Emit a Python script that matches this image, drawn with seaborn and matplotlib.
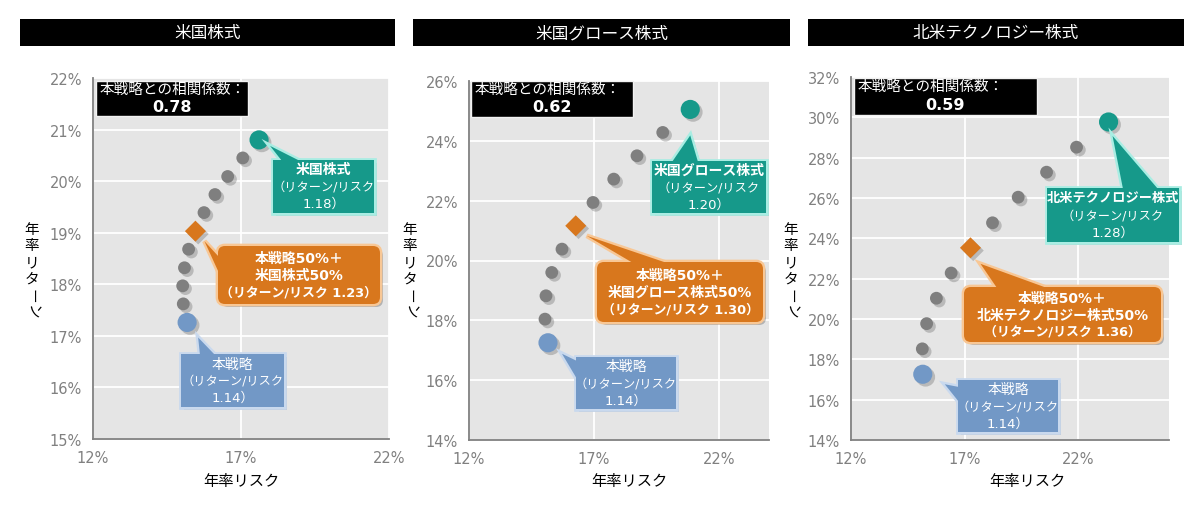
import numpy as np
import pandas as pd
import seaborn as sns
import matplotlib
matplotlib.use("Agg")
import matplotlib.pyplot as plt
import matplotlib.patheffects as pe
from matplotlib.patches import Polygon, Rectangle, FancyBboxPatch
from matplotlib.ticker import FuncFormatter, MultipleLocator

# ---------------- data ----------------
titles = ["米国株式", "米国グロース株式", "北米テクノロジー株式"]
asset_names = ["米国株式", "米国グロース株式", "北米テクノロジー株式"]
correlations = ["0.78", "0.62", "0.59"]
asset_rr = ["1.18", "1.20", "1.28"]
mix_rr = ["1.23", "1.30", "1.36"]
strategy_rr = "1.14"
asset_weight = [0, 10, 20, 30, 40, 50, 60, 70, 80, 90, 100]

risk_us = [15.18, 15.05, 15.03, 15.09, 15.23, 15.46, 15.75, 16.12, 16.55, 17.06, 17.61]
ret_us = [17.26, 17.62, 17.97, 18.32, 18.68, 19.03, 19.39, 19.74, 20.09, 20.45, 20.80]
risk_growth = [15.16, 15.04, 15.08, 15.31, 15.72, 16.27, 16.96, 17.79, 18.72, 19.75, 20.85]
ret_growth = [17.25, 18.04, 18.82, 19.60, 20.38, 21.16, 21.94, 22.72, 23.50, 24.28, 25.05]
risk_tech = [15.16, 15.14, 15.33, 15.76, 16.41, 17.26, 18.23, 19.36, 20.61, 21.93, 23.34]
ret_tech = [17.26, 18.52, 19.77, 21.03, 22.28, 23.53, 24.77, 26.04, 27.28, 28.52, 29.77]

x_ticks = [12, 17, 22]
y_ranges = [(15, 22, 1), (14, 26, 2), (14, 32, 2)]
x_ranges = [(12, 22), (12, 24), (12, 26)]

series = [(risk_us, ret_us), (risk_growth, ret_growth), (risk_tech, ret_tech)]

# ---------------- style ----------------
sns.set_theme(style="white")
plt.rcParams["font.family"] = ["DejaVu Sans", "Noto Sans CJK JP"]
JP = ["Noto Sans CJK JP", "DejaVu Sans"]

C_GRAY = "#7f7f7f"
C_TEAL = "#16998a"
C_BLUE = "#7298c6"
C_ORANGE = "#d8771d"
E_TEAL = "#a9ede3"
E_BLUE = "#c9d9ee"
E_ORANGE = "#f8c795"

fig = plt.figure(figsize=(12, 5.1), dpi=100)
W, H = 1200, 510

# axes rectangles in pixels (left, top, right, bottom)
ax_px = [(93, 79, 389, 440), (469, 82, 769, 441), (851, 78, 1169, 441)]

overlay = fig.add_axes([0, 0, 1, 1], zorder=10)
overlay.set_xlim(0, W)
overlay.set_ylim(H, 0)
overlay.axis("off")
overlay.patch.set_alpha(0)

axes = []
for i in range(3):
    l, t, r, b = ax_px[i]
    ax = fig.add_axes([l / W, (H - b) / H, (r - l) / W, (b - t) / H])
    axes.append(ax)
    rx, ry = series[i]
    kinds = ["mix"] * len(rx)
    kinds[0] = "strategy"
    kinds[5] = "half"
    kinds[-1] = "asset"
    df = pd.DataFrame({"risk": rx, "ret": ry, "kind": kinds, "w": asset_weight})
    ax.set_facecolor("#e5e5e5")
    sns.scatterplot(
        data=df, x="risk", y="ret", hue="kind", style="kind", size="kind",
        palette={"strategy": C_BLUE, "mix": C_GRAY, "half": C_ORANGE, "asset": C_TEAL},
        markers={"strategy": "o", "mix": "o", "half": "D", "asset": "o"},
        sizes={"strategy": 190, "mix": 85, "half": 115, "asset": 190},
        linewidth=0, legend=False, ax=ax, zorder=3,
    )
    for coll in ax.collections:
        coll.set_path_effects([pe.SimplePatchShadow(offset=(2, -2), alpha=0.3, shadow_rgbFace="#555555"), pe.Normal()])
    x0, x1 = x_ranges[i]
    y0, y1, ys = y_ranges[i]
    ax.set_xlim(x0, x1)
    ax.set_ylim(y0, y1)
    ax.set_xticks(x_ticks)
    ax.yaxis.set_major_locator(MultipleLocator(ys))
    ax.xaxis.set_major_formatter(FuncFormatter(lambda v, p: f"{v:.0f}%"))
    ax.yaxis.set_major_formatter(FuncFormatter(lambda v, p: f"{v:.0f}%"))
    ax.grid(True, color="white", linewidth=1.3, zorder=0)
    ax.set_axisbelow(True)
    for s in ["top", "right"]:
        ax.spines[s].set_visible(False)
    for s in ["left", "bottom"]:
        ax.spines[s].set_color("#808080")
        ax.spines[s].set_linewidth(1.3)
    ax.tick_params(axis="both", labelsize=10.5, colors="#808080", length=0, pad=8)
    ax.set_xlabel("")
    ax.set_ylabel("")

def to_px(ax, x, y):
    d = ax.transData.transform((x, y))
    return overlay.transData.inverted().transform(d)

def callout(box, base, tip, face, edge, lines, weights, sizes, rounded=False):
    x0, y0, x1, y1 = box
    sh = 3
    if rounded:
        shp = FancyBboxPatch((x0 + sh, y0 + sh), x1 - x0, y1 - y0,
                             boxstyle="round,pad=0,rounding_size=7",
                             facecolor="black", alpha=0.22, edgecolor="none", zorder=1)
    else:
        shp = Rectangle((x0 + sh, y0 + sh), x1 - x0, y1 - y0, facecolor="black", alpha=0.22,
                        edgecolor="none", zorder=1)
    overlay.add_patch(shp)
    tri = [tip, base[0], base[1]]
    overlay.add_patch(Polygon([(p[0] + sh, p[1] + sh) for p in tri], closed=True,
                              facecolor="black", alpha=0.22, edgecolor="none", zorder=1))
    if rounded:
        b1 = FancyBboxPatch((x0, y0), x1 - x0, y1 - y0, boxstyle="round,pad=0,rounding_size=7",
                            facecolor=face, edgecolor=edge, linewidth=3.4, zorder=2)
        b2 = FancyBboxPatch((x0, y0), x1 - x0, y1 - y0, boxstyle="round,pad=0,rounding_size=7",
                            facecolor=face, edgecolor="none", zorder=3)
    else:
        b1 = Rectangle((x0, y0), x1 - x0, y1 - y0, facecolor=face, edgecolor=edge, linewidth=3.4, zorder=2)
        b2 = Rectangle((x0, y0), x1 - x0, y1 - y0, facecolor=face, edgecolor="none", zorder=3)
    overlay.add_patch(b1)
    overlay.add_patch(Polygon(tri, closed=True, facecolor=face, edgecolor=edge, linewidth=3.4,
                              joinstyle="miter", zorder=2))
    overlay.add_patch(b2)
    overlay.add_patch(Polygon(tri, closed=True, facecolor=face, edgecolor="none", zorder=3))
    cx = (x0 + x1) / 2
    n = len(lines)
    lh = 17
    start = (y0 + y1) / 2 - (n - 1) * lh / 2
    for k, ln in enumerate(lines):
        overlay.text(cx, start + k * lh, ln, ha="center", va="center", color="white",
                     fontsize=sizes[k], fontweight=weights[k], zorder=4)

# callout geometry (pixels)
teal_boxes = [(273, 161, 374, 214), (652, 162, 766, 214), (1047, 189, 1179, 243)]
teal_bases = [((282, 162), (300, 162)), ((672, 163), (698, 163)), ((1123, 190), (1158, 190))]
teal_off = [(11, 6), (0, 26), (4, 14)]
orange_boxes = [(218, 247, 380, 305), (597, 263, 763, 323), (964, 288, 1161, 343)]
orange_bases = [((219, 258), (219, 274)), ((633, 264), (667, 264)), ((997, 289), (1047, 289))]
orange_off = [(9, 10), (11, 10), (10, 16)]
blue_boxes = [(181, 355, 284, 408), (576, 358, 676, 410), (958, 381, 1058, 433)]
blue_bases = [((200, 356), (215, 356)), ((577, 362), (577, 380)), ((959, 388), (959, 403))]
blue_off = [(11, 15), (14, 11), (22, 10)]
corr_boxes = [(96, 82, 248, 117), (471, 82, 633, 118), (854, 79, 1037, 116)]
title_boxes = [(20, 20, 395, 47), (413, 20, 790, 47), (808, 20, 1184, 47)]
ylabel_x = [32, 410, 791]
xlabel_x = [241, 629, 1027]

for i, ax in enumerate(axes):
    rx, ry = series[i]
    # title bar
    x0, y0, x1, y1 = title_boxes[i]
    overlay.add_patch(Rectangle((x0, y0), x1 - x0, y1 - y0, facecolor="black", edgecolor="none", zorder=2))
    overlay.text((x0 + x1) / 2, (y0 + y1) / 2, titles[i], ha="center", va="center", color="white",
                 fontsize=12, family=JP, zorder=4)
    # correlation box
    x0, y0, x1, y1 = corr_boxes[i]
    overlay.add_patch(Rectangle((x0, y0), x1 - x0, y1 - y0, facecolor="black", edgecolor="#f2f2f2",
                                linewidth=1, zorder=2))
    overlay.text(x0 + 4, y0 + 9, "本戦略との相関係数：", ha="left", va="center", color="white",
                 fontsize=10.5, family=JP, zorder=4)
    overlay.text((x0 + x1) / 2, y0 + 26, correlations[i], ha="center", va="center", color="white",
                 fontsize=11.5, fontweight="bold", zorder=4)
    # callouts
    px = to_px(ax, rx[-1], ry[-1])
    tip = (px[0] + teal_off[i][0], px[1] + teal_off[i][1])
    callout(teal_boxes[i], teal_bases[i], tip, C_TEAL, E_TEAL,
            [asset_names[i], "（リターン/リスク", f"{asset_rr[i]}）"],
            ["bold", "normal", "normal"], [10 if i < 2 else 9.5, 8.8, 9.5])
    px = to_px(ax, rx[5], ry[5])
    tip = (px[0] + orange_off[i][0], px[1] + orange_off[i][1])
    callout(orange_boxes[i], orange_bases[i], tip, C_ORANGE, E_ORANGE,
            ["本戦略50%＋", f"{asset_names[i]}50%", f"（リターン/リスク {mix_rr[i]}）"],
            ["bold", "bold", "bold"], [10, 10, 9.3], rounded=True)
    px = to_px(ax, rx[0], ry[0])
    tip = (px[0] + blue_off[i][0], px[1] + blue_off[i][1])
    callout(blue_boxes[i], blue_bases[i], tip, C_BLUE, E_BLUE,
            ["本戦略", "（リターン/リスク", f"{strategy_rr}）"],
            ["normal", "normal", "normal"], [10, 8.8, 9.5])
    # axis labels
    for k, ch in enumerate("年率リターン"):
        rot = -90 if ch in "ーン" else 0
        overlay.text(ylabel_x[i], 230 + k * 16.5, ch, ha="center", va="center", color="black",
                     fontsize=10.5, family=JP, rotation=rot, zorder=4)
    overlay.text(xlabel_x[i], 482, "年率リスク", ha="center", va="center", color="black",
                 fontsize=11, family=JP, zorder=4)

fig.savefig("out.png", dpi=100, facecolor="white")
